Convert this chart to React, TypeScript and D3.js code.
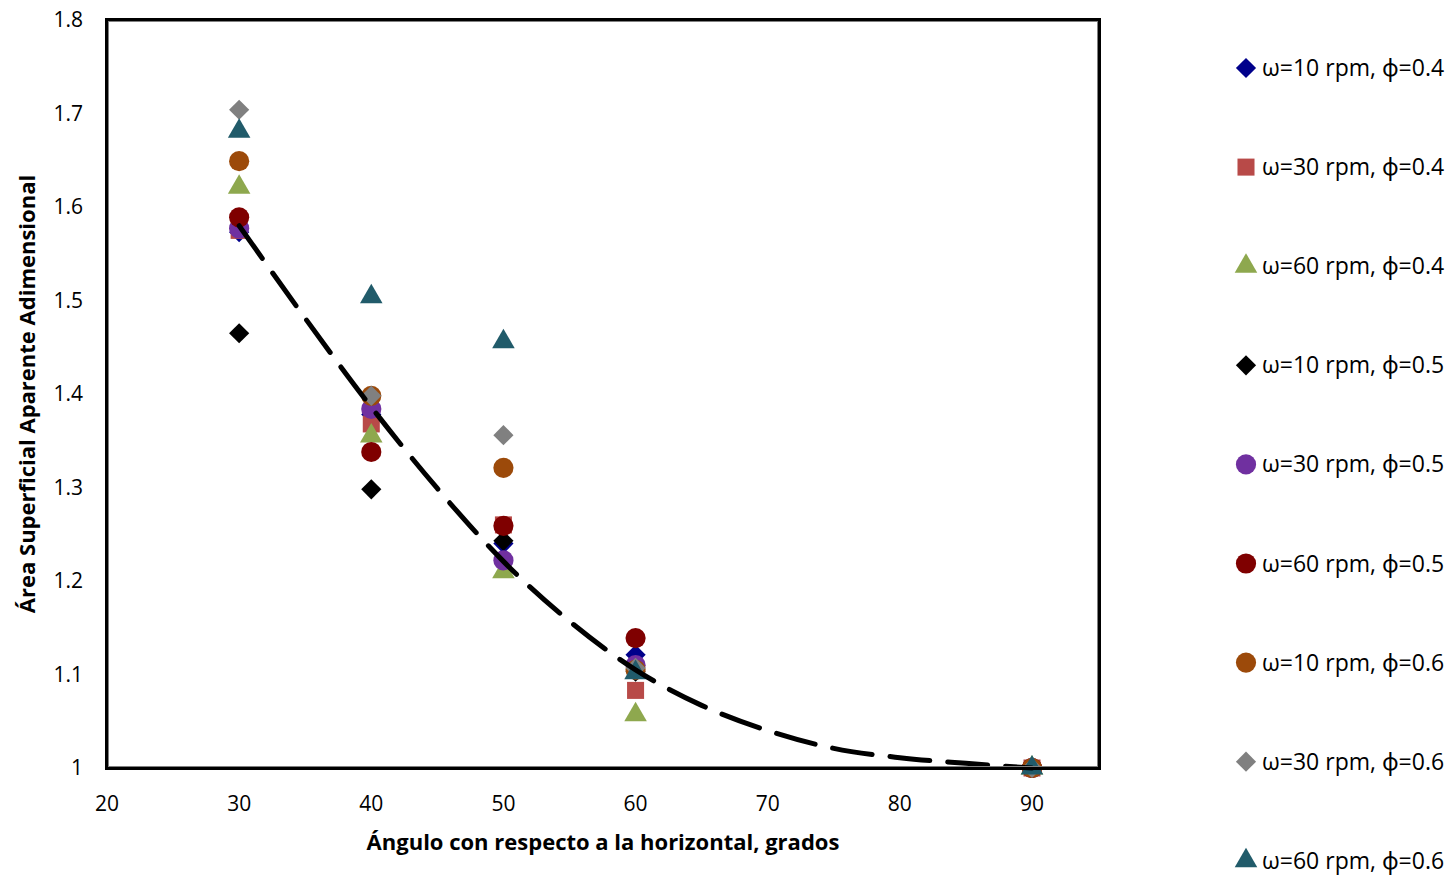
import React, { useEffect, useRef } from 'react'
import * as d3 from 'd3'

// angles (x) shared by every series
const angles = [30, 40, 50, 60, 90]

const seriesNames = [
  'ω=10 rpm, ϕ=0.4',
  'ω=30 rpm, ϕ=0.4',
  'ω=60 rpm, ϕ=0.4',
  'ω=10 rpm, ϕ=0.5',
  'ω=30 rpm, ϕ=0.5',
  'ω=60 rpm, ϕ=0.5',
  'ω=10 rpm, ϕ=0.6',
  'ω=30 rpm, ϕ=0.6',
  'ω=60 rpm, ϕ=0.6',
]

const w10p4 = [1.573, 1.378, 1.24, 1.121, 1.0]
const w30p4 = [1.575, 1.368, 1.26, 1.083, 1.0]
const w60p4 = [1.621, 1.355, 1.21, 1.057, 1.0]
const w10p5 = [1.465, 1.298, 1.243, 1.103, 1.0]
const w30p5 = [1.577, 1.384, 1.222, 1.11, 1.0]
const w60p5 = [1.589, 1.338, 1.259, 1.139, 1.0]
const w10p6 = [1.649, 1.398, 1.321, 1.105, 1.0]
const w30p6 = [1.704, 1.398, 1.356, 1.107, 1.0]
const w60p6 = [1.681, 1.504, 1.456, 1.102, 1.0]

const seriesValues = [w10p4, w30p4, w60p4, w10p5, w30p5, w60p5, w10p6, w30p6, w60p6]
const seriesColors = ['#00008B', '#B84A48', '#8EA84E', '#000000', '#7030A0', '#7F0000', '#9C4A0A', '#808080', '#215B6A']
const seriesShapes = ['diamond', 'square', 'triangle', 'diamond', 'circle', 'circle', 'circle', 'diamond', 'triangle']

// dashed trend line
const trendX = [30, 35, 40, 45, 50, 55, 60, 65, 70, 75, 80, 85, 90]
const trendY = [1.58, 1.481, 1.386, 1.299, 1.221, 1.157, 1.105, 1.067, 1.04, 1.021, 1.011, 1.005, 1.0]

const xTicks = [20, 30, 40, 50, 60, 70, 80, 90]
const yTicks = [1, 1.1, 1.2, 1.3, 1.4, 1.5, 1.6, 1.7, 1.8]

const W = 1455
const H = 876
const FONT = '"Open Sans", "Noto Sans", sans-serif'

const symbolFor = (shape: string) => {
  if (shape === 'diamond') return d3.symbol().type(d3.symbolDiamond2).size(260)
  if (shape === 'square') return d3.symbol().type(d3.symbolSquare).size(290)
  if (shape === 'triangle') return d3.symbol().type(d3.symbolTriangle).size(220)
  return d3.symbol().type(d3.symbolCircle).size(320)
}

export default function App() {
  const ref = useRef<SVGSVGElement>(null)

  useEffect(() => {
    const svg = d3.select(ref.current)
    svg.selectAll('*').remove()

    const left = 107, right = 1099, top = 20, bottom = 768
    // 20 -> 107 and 90 -> 1032
    const xMax = 20 + (70 * (right - left)) / (1032 - left)
    const x = d3.scaleLinear().domain([20, xMax]).range([left, right])
    const y = d3.scaleLinear().domain([1, 1.8]).range([bottom, top])

    svg.append('rect').attr('width', W).attr('height', H).attr('fill', '#fff')

    // tick labels
    svg.append('g')
      .selectAll('text')
      .data(xTicks)
      .join('text')
      .attr('x', (d) => x(d))
      .attr('y', bottom + 43)
      .attr('text-anchor', 'middle')
      .attr('font-family', FONT)
      .attr('font-size', 21)
      .text((d) => d)

    svg.append('g')
      .selectAll('text')
      .data(yTicks)
      .join('text')
      .attr('x', 83)
      .attr('y', (d) => y(d) + 7)
      .attr('text-anchor', 'end')
      .attr('font-family', FONT)
      .attr('font-size', 21)
      .text((d) => (d === 1 ? '1' : d.toFixed(1)))

    // markers
    seriesValues.forEach((vals, i) => {
      svg.append('g')
        .selectAll('path')
        .data(vals)
        .join('path')
        .attr('transform', (d, j) => `translate(${x(angles[j])},${y(d)})`)
        .attr('d', symbolFor(seriesShapes[i])() as string)
        .attr('fill', seriesColors[i])
    })

    // trend
    const line = d3.line<number>()
      .x((d, i) => x(trendX[i]))
      .y((d) => y(d))
      .curve(d3.curveMonotoneX)
    svg.append('path')
      .attr('d', line(trendY) as string)
      .attr('fill', 'none')
      .attr('stroke', '#000')
      .attr('stroke-width', 5)
      .attr('stroke-dasharray', '40 18')
      .attr('stroke-linecap', 'round')

    // frame
    svg.append('rect')
      .attr('x', left)
      .attr('y', top)
      .attr('width', right - left)
      .attr('height', bottom - top)
      .attr('fill', 'none')
      .attr('stroke', '#000')
      .attr('stroke-width', 4)
    svg.append('rect')
      .attr('x', left + 1.5)
      .attr('y', top + 1.5)
      .attr('width', right - left - 3)
      .attr('height', bottom - top - 3)
      .attr('fill', 'none')
      .attr('stroke', '#808080')
      .attr('stroke-width', 1)

    // axis titles
    svg.append('text')
      .attr('x', 603)
      .attr('y', 850)
      .attr('text-anchor', 'middle')
      .attr('font-family', FONT)
      .attr('font-weight', 'bold')
      .attr('font-size', 22)
      .text('Ángulo con respecto a la horizontal, grados')

    svg.append('text')
      .attr('transform', `translate(35,${(top + bottom) / 2}) rotate(-90)`)
      .attr('text-anchor', 'middle')
      .attr('font-family', FONT)
      .attr('font-weight', 'bold')
      .attr('font-size', 22)
      .text('Área Superficial Aparente Adimensional')

    // legend
    const lg = svg.append('g')
      .selectAll('g')
      .data(seriesNames)
      .join('g')
      .attr('transform', (d, i) => `translate(1246,${68 + i * 99.1})`)
    lg.append('path')
      .attr('d', (d, i) => symbolFor(seriesShapes[i])() as string)
      .attr('fill', (d, i) => seriesColors[i])
    lg.append('text')
      .attr('x', 16)
      .attr('y', 8)
      .attr('font-family', FONT)
      .attr('font-size', 23)
      .text((d) => d)
  }, [])

  return <svg ref={ref} width={W} height={H} style={{ display: 'block', position: 'absolute', left: 0, top: 0 }} />
}
